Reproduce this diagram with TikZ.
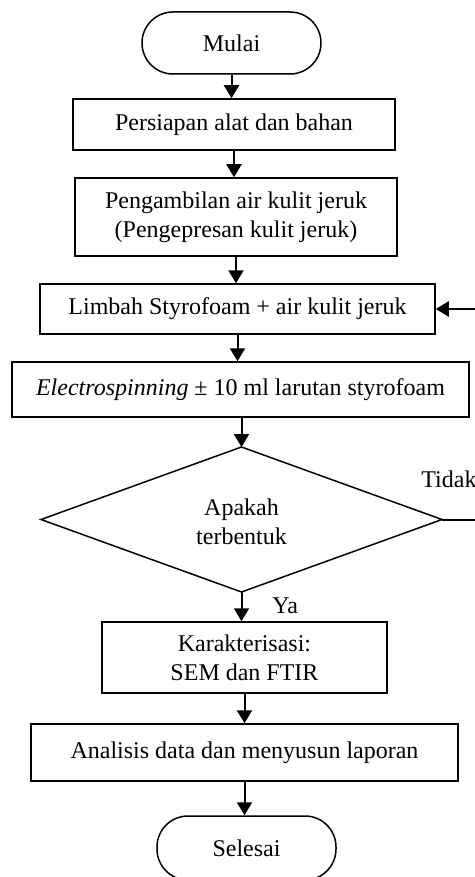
\documentclass[tikz,border=0pt]{standalone}
\usepackage{fontspec}
\setmainfont{Liberation Serif}
\usetikzlibrary{arrows.meta}
\begin{document}
\begin{tikzpicture}[x=0.5pt,y=-0.5pt,
  every node/.style={font=\fontsize{12}{14.5}\selectfont, align=center, inner sep=0pt},
  procbox/.style={draw, line width=0.75pt, rectangle},
  termbox/.style={draw, line width=0.75pt, rectangle, rounded corners=15.5pt, minimum width=89.5pt},
  decline/.style={line width=0.75pt, line join=miter},
  flow/.style={line width=1pt, -{Triangle[length=6.5pt,width=7.5pt]}},
  plainline/.style={line width=1pt}
]
\useasboundingbox (0,0) rectangle (475,877);
\clip (0,0) rectangle (475,877);
\node[termbox, minimum height=31pt] (start) at (231.5,43) {Mulai};
\node[procbox, minimum width=161pt, minimum height=25.5pt] (b1) at (234,124.5) {Persiapan alat dan bahan};
\node[procbox, minimum width=161pt, minimum height=39pt] (b2) at (236,217) {Pengambilan air kulit jeruk\\(Pengepresan kulit jeruk)};
\node[procbox, minimum width=197.5pt, minimum height=25pt] (b3) at (237.5,309) {Limbah Styrofoam + air kulit jeruk};
\node[procbox, minimum width=228.5pt, minimum height=27.5pt] (b4) at (240.5,389.5) {\textit{Electrospinning} ± 10 ml larutan styrofoam};
\coordinate (dtop) at (241.5,447);
\coordinate (dbot) at (241.5,592);
\coordinate (dleft) at (41,519.5);
\coordinate (dright) at (442,519.5);
\draw[decline] (dtop) -- (dright) -- (dbot) -- (dleft) -- cycle;
\node (dec) at (241.5,522) {Apakah\\terbentuk};
\node[procbox, minimum width=142.5pt, minimum height=35.5pt] (b5) at (244.5,657.5) {Karakterisasi:\\SEM dan FTIR};
\node[procbox, minimum width=213.5pt, minimum height=28.5pt] (b6) at (244.5,752.5) {Analisis data dan menyusun laporan};
\node[termbox, minimum height=32pt] (stop) at (246.5,848) {Selesai};
\node[anchor=west] (tidak) at (421,479) {Tidak};
\node[anchor=west] (ya) at (272,606) {Ya};
\coordinate (loopR) at (485,519.5);
\draw[flow] (start.south) -- (start.south |- b1.north);
\draw[flow] (b1.south) -- (b1.south |- b2.north);
\draw[flow] (b2.south) -- (b2.south |- b3.north);
\draw[flow] (b3.south) -- (b3.south |- b4.north);
\draw[flow] (b4.south -| dtop) -- (dtop);
\draw[flow] (dbot) -- (dbot |- b5.north);
\draw[flow] (b5.south) -- (b5.south |- b6.north);
\draw[flow] (b6.south) -- (b6.south |- stop.north);
\draw[plainline] (dright) -- (loopR) -- (loopR |- b3.east);
\draw[flow] (loopR |- b3.east) -- (b3.east);
\end{tikzpicture}
\end{document}
